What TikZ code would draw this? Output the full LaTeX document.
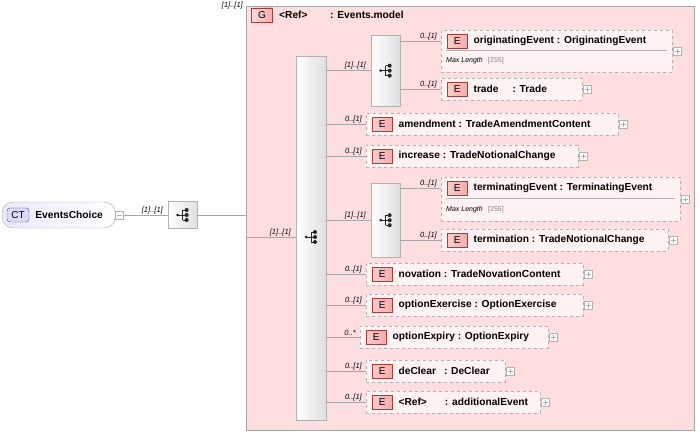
\documentclass[tikz,border=0pt]{standalone}
\usepackage{fontspec}
\setmainfont{Liberation Sans}
\usetikzlibrary{positioning}
\definecolor{grpfill}{RGB}{255,222,223}
\definecolor{elfill}{RGB}{255,242,242}
\definecolor{badge}{RGB}{247,170,170}
\definecolor{badgeline}{RGB}{170,60,60}
\definecolor{ctfill}{RGB}{220,220,250}
\tikzset
{
    grp/.style      = {draw=gray!70, fill=grpfill, line width=0.8pt},
    compbox/.style  = {draw=gray!60, left color=white, right color=gray!25},
    elembox/.style  = {draw=gray!60, dashed, fill=elfill},
    ebadge/.style   = {draw=badgeline, left color=badge!60, right color=badge, minimum width=20pt, minimum height=14pt, inner sep=0pt, font=\fontsize{10}{9}\selectfont},
    ename/.style    = {anchor=west, inner sep=0pt, font=\fontsize{10.2}{10}\selectfont\bfseries},
    card/.style     = {anchor=south east, inner sep=1pt, font=\fontsize{7.5}{8}\selectfont\itshape},
    plusbox/.style  = {draw=gray!60, fill=white, minimum size=8pt, inner sep=0pt},
    wire/.style     = {draw=gray!70, line width=0.5pt},
    dots/.pic       = {
        \fill[gray!30!black] (-5,0) circle (1.5);
        \draw[gray!30!black, line width=0.8pt] (-5,0) -- (0,0) (0,-5) -- (0,5) (0,-5) -- (4,-5) (0,0) -- (4,0) (0,5) -- (4,5);
        \fill[gray!30!black] (4,-5) circle (2) (4,0) circle (2) (4,5) circle (2);
    }
}
% element box with badge, name and expander
\newcommand\elembox[6]{%
  \node (#1) [elembox, minimum width=#3-#2, minimum height=#5, inner sep=0pt, anchor=north west] at (#2,#4) {};
  \node (#1E) [ebadge, anchor=north west] at ([shift={(6,4)}]#1.north west) {E};
  \node (#1T) [ename] at ([xshift=6]#1E.east) {#6};
  \node (#1P) [plusbox, anchor=west] at ([shift={(1,0)}]#1.east) {};
  \draw[gray!60, line width=0.4pt] (#1P.center) ++(-2.5,0) -- ++(5,0) (#1P.center) ++(0,-2.5) -- ++(0,5);
}
\begin{document}
\begin{tikzpicture}[x=1pt, y=-1pt]
\useasboundingbox (0,0) rectangle (700,435);

% root complex type
\node (ct) [draw=gray!70, rounded corners=11pt, left color=ctfill!60, right color=white, minimum width=113, minimum height=26, anchor=west] at (2,215) {};
\node (ctb) [draw=gray!50!blue, rounded corners=3pt, fill=ctfill, minimum width=22, minimum height=14, inner sep=0pt, font=\fontsize{10}{9}\selectfont] at (18,215) {CT};
\node (ctt) [ename] at ([xshift=6]ctb.east) {EventsChoice};
\node (ctm) [plusbox, anchor=west] at (ct.east) {};
\draw[gray!60] ([xshift=1.5]ctm.west) -- ([xshift=-1.5]ctm.east);

% top sequence
\node (seq0) [compbox, minimum width=29, minimum height=27, anchor=west] at (168,215) {};
\pic at (seq0.center) {dots};
\draw[wire] (ctm.east) -- node[card, pos=1, xshift=-4] {[1]..[1]} (seq0.west);

% group
\node (grp) [grp, minimum width=448, minimum height=424, anchor=north west] at (246,6) {};
\node (grpc) [card, anchor=east] at (244,6) {[1]..[1]};
\node (grpG) [draw=badgeline, left color=badge!40, right color=badge, minimum width=21, minimum height=14, inner sep=0pt, font=\fontsize{10}{9}\selectfont] at (262,15) {G};
\node (grpR) [ename] at (279,15) {<Ref>};
\node (grpN) [ename] at (330,15) {: Events.model};
\draw[wire] (seq0.east) -- (grp.west |- seq0.east);

% choice
\node (ch) [compbox, minimum width=30, minimum height=364, anchor=north west] at (296,56) {};
\pic at (311,237) {dots};
\coordinate (chin) at (246,237);
\draw[wire] (chin) -- node[card, pos=1, xshift=-4] {[1]..[1]} (chin -| ch.west);

% inner sequences
\node (seqA) [compbox, minimum width=29, minimum height=71, anchor=north west] at (371,35) {};
\pic at (seqA.center) {dots};
\node (seqB) [compbox, minimum width=29, minimum height=74, anchor=north west] at (371,183) {};
\pic at (seqB.center) {dots};
\draw[wire] (seqA.west -| ch.east) -- node[card, pos=1, xshift=-4] {[1]..[1]} (seqA.west);
\draw[wire] (seqB.west -| ch.east) -- node[card, pos=1, xshift=-4] {[1]..[1]} (seqB.west);

% elements with facets
\elembox{orig}{441}{672}{30}{42}{originatingEvent : OriginatingEvent}
\draw[gray!60] (446,50) -- (667,50);
\node (origML) [anchor=west, inner sep=0pt, font=\fontsize{7}{8}\selectfont\itshape] at (446,61) {Max Length};
\node (origMV) [anchor=west, inner sep=0pt, text=gray, font=\fontsize{7}{8}\selectfont] at (488,61) {[255]};
\elembox{term}{441}{680}{177}{44}{terminatingEvent : TerminatingEvent}
\draw[gray!60] (446,198) -- (675,198);
\node (termML) [anchor=west, inner sep=0pt, font=\fontsize{7}{8}\selectfont\itshape] at (446,210) {Max Length};
\node (termMV) [anchor=west, inner sep=0pt, text=gray, font=\fontsize{7}{8}\selectfont] at (488,210) {[255]};
\elembox{trade}{441}{582}{78}{22}{trade\hspace{14pt}: Trade}
\elembox{termn}{441}{668}{229}{22}{termination : TradeNotionalChange}
\draw[wire] (seqA.east |- origE.west) -- node[card, pos=1, xshift=-3] {0..[1]} (orig.west |- origE.west);
\draw[wire] (seqA.east |- trade.west) -- node[card, pos=1, xshift=-3] {0..[1]} (trade.west);
\draw[wire] (seqB.east |- termE.west) -- node[card, pos=1, xshift=-3] {0..[1]} (term.west |- termE.west);
\draw[wire] (seqB.east |- termn.west) -- node[card, pos=1, xshift=-3] {0..[1]} (termn.west);

% plain elements of the choice
\foreach \nm/\xl/\xr/\yt/\txt/\cd in {
  amend/366/618/113/{amendment : TradeAmendmentContent}/{0..[1]},
  incr/366/578/145/{increase : TradeNotionalChange}/{0..[1]},
  nova/366/583/263/{novation : TradeNovationContent}/{0..[1]},
  opex/366/583/294/{optionExercise : OptionExercise}/{0..[1]},
  opexp/360/548/326/{optionExpiry : OptionExpiry}/{0..*},
  decl/366/505/360/{deClear\hspace{8pt}: DeClear}/{0..[1]},
  addev/366/540/391/{<Ref>\hspace{18pt}: additionalEvent}/{0..[1]}}
{
  \elembox{\nm}{\xl}{\xr}{\yt}{22}{\txt}
  \draw[wire] (\nm.west -| ch.east) -- node[card, pos=1, xshift=-3] {\cd} (\nm.west);
}
\end{tikzpicture}
\end{document}
